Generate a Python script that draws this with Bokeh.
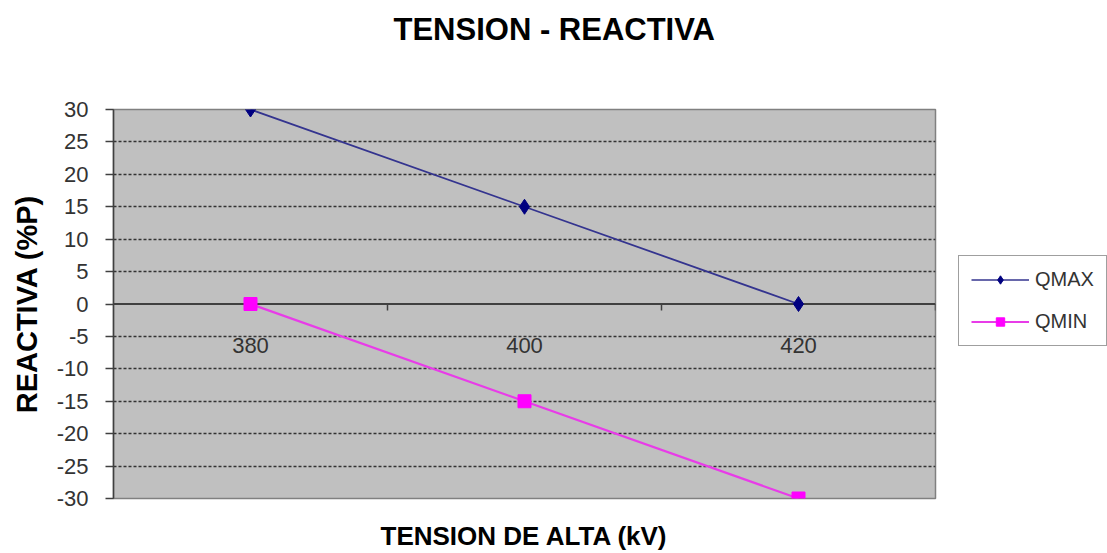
from bokeh.plotting import figure
from bokeh.layouts import row
from bokeh.models import Range1d, FixedTicker, Legend, LegendItem, Title
from bokeh.embed import file_html
from bokeh.resources import INLINE
from bokeh.core.properties import value

# Voltage levels (kV) and reactive power limits (% of P)
categories = ["380", "400", "420"]
qmax = [30, 15, 0]
qmin = [0, -15, -30]
y_ticks = [-30, -25, -20, -15, -10, -5, 0, 5, 10, 15, 20, 25, 30]
series_names = ["QMAX", "QMIN"]

FONT = "Liberation Sans"
QMAX_LINE, QMAX_MARK = "#34348f", "#000080"
QMIN_LINE, QMIN_MARK = "#e83ce8", "#ff00ff"
n = len(categories)
x_pos = [i + 0.5 for i in range(n)]

p = figure(width=950, height=553, output_backend="svg", toolbar_location=None,
           x_range=Range1d(0, n), y_range=Range1d(y_ticks[0], y_ticks[-1]),
           min_border_left=113, min_border_right=15,
           min_border_top=109, min_border_bottom=53)
p.background_fill_color = "#c0c0c0"
p.border_fill_color = "white"
p.outline_line_color = "#808080"
p.outline_line_width = 1.5
p.title.text = ""

# empty spacer between frame and title, then the title itself
p.add_layout(Title(text=" ", text_font_size="2px", standoff=48), "above")
p.add_layout(Title(text="TENSION - REACTIVA", align="left", offset=280,
                   vertical_align="middle", standoff=20,
                   text_font=FONT, text_font_size="31px",
                   text_font_style="bold", text_color="black"), "above")

# bottom axis only carries the title
xa = p.xaxis[0]
xa.ticker = FixedTicker(ticks=[])
xa.axis_line_color = None
xa.major_tick_line_color = None
xa.minor_tick_line_color = None
xa.axis_label = "TENSION DE ALTA (kV)"
xa.axis_label_text_font = FONT
xa.axis_label_text_font_size = "26px"
xa.axis_label_text_font_style = "bold"
xa.axis_label_text_color = "black"
xa.axis_label_standoff = 22

ya = p.yaxis[0]
ya.ticker = FixedTicker(ticks=y_ticks)
ya.major_label_overrides = {t: str(t) for t in y_ticks}
ya.minor_tick_line_color = None
ya.major_tick_in = 0
ya.major_tick_out = 8
ya.major_tick_line_color = "#404040"
ya.major_tick_line_width = 1.5
ya.axis_line_color = "#404040"
ya.axis_line_width = 1.5
ya.major_label_text_font = FONT
ya.major_label_text_font_size = "22px"
ya.major_label_text_color = "#333333"
ya.major_label_standoff = 17
ya.axis_label = "REACTIVA (%P)"
ya.axis_label_text_font = FONT
ya.axis_label_text_font_size = "29px"
ya.axis_label_text_font_style = "bold"
ya.axis_label_text_color = "black"
ya.axis_label_standoff = 11

# dashed horizontal gridlines
p.xgrid.visible = False
p.ygrid.ticker = FixedTicker(ticks=[t for t in y_ticks[1:-1] if t != 0])
p.ygrid.grid_line_color = "#333333"
p.ygrid.grid_line_dash = "3 2"
p.ygrid.grid_line_width = 1.4

# category axis crossing at zero, with ticks between categories
p.segment(x0=[0], x1=[n], y0=[0], y1=[0], line_color="#404040", line_width=2)
bounds = list(range(1, n + 1))
p.segment(x0=bounds, x1=bounds, y0=[0] * n, y1=[-1.0] * n,
          line_color="#404040", line_width=1.5)
p.text(x=x_pos, y=[-6.4] * n, text=categories, text_align="center",
       text_baseline="middle", text_font=value(FONT), text_font_size="22px",
       text_color="#333333")

# series
p.line(x_pos, qmax, line_color=QMAX_LINE, line_width=1.8)
p.scatter(x_pos, qmax, marker="diamond", size=15, color=QMAX_MARK)
p.line(x_pos, qmin, line_color=QMIN_LINE, line_width=2.2)
p.scatter(x_pos, qmin, marker="square", size=13, color=QMIN_MARK)

# legend panel beside the chart; its renderers carry the same series but
# sit outside this panel's visible ranges, so only the legend keys show
lg = figure(width=157, height=553, output_backend="svg", toolbar_location=None,
            x_range=Range1d(-2, -1), y_range=Range1d(-2, -1),
            x_axis_location=None, y_axis_location=None,
            min_border=0)
lg.outline_line_color = None
lg.xgrid.visible = False
lg.ygrid.visible = False
k1 = lg.line(x_pos, qmax, line_color=QMAX_LINE, line_width=1.6)
s1 = lg.scatter(x_pos, qmax, marker="diamond", size=12, color=QMAX_MARK)
k2 = lg.line(x_pos, qmin, line_color=QMIN_LINE, line_width=2)
s2 = lg.scatter(x_pos, qmin, marker="square", size=11, color=QMIN_MARK)

legend = Legend(items=[LegendItem(label=series_names[0], renderers=[k1, s1]),
                       LegendItem(label=series_names[1], renderers=[k2, s2])],
                location=(8, 152))
legend.border_line_color = "#404040"
legend.border_line_width = 1.3
legend.background_fill_color = "white"
legend.label_text_font = FONT
legend.label_text_font_size = "20px"
legend.label_text_color = "#333333"
legend.glyph_width = 58
legend.glyph_height = 21
legend.padding = 12
legend.spacing = 19
legend.label_standoff = 6
legend.margin = 0
lg.add_layout(legend)

open("out.html", "w").write(file_html(row(p, lg), INLINE))
